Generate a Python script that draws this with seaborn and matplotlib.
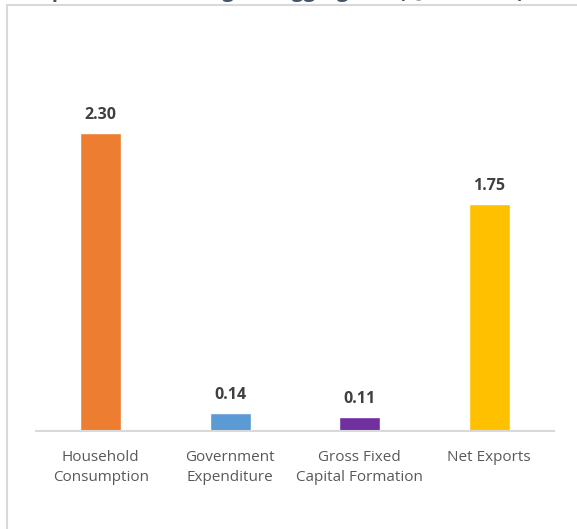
import matplotlib
matplotlib.use("Agg")
import matplotlib.pyplot as plt
import seaborn as sns
import pandas as pd
from matplotlib.patches import Rectangle

categories = ["Household\nConsumption", "Government\nExpenditure",
              "Gross Fixed\nCapital Formation", "Net Exports"]
values = [2.30, 0.14, 0.11, 1.75]
labels = ["2.30", "0.14", "0.11", "1.75"]
colors = ["#ED7D31", "#5B9BD5", "#7030A0", "#FFC000"]
title = "Components of Change in Aggregates (Q1 2024, %)"

sns.set_theme(style="white")
plt.rcParams["font.family"] = ["Open Sans", "DejaVu Sans"]

W, H = 577, 529
fig = plt.figure(figsize=(W / 100, H / 100), dpi=100)

# outer frame
fig.patches.append(Rectangle((6.5 / W, -0.1), 1.2, (H - 5) / H + 0.1,
                             transform=fig.transFigure, fill=False,
                             edgecolor="#D9D9D9", linewidth=1.5))
# title, clipped at the top edge as in the reference
fig.text(5 / W, (H + 2.5) / H, title, fontsize=15, fontweight="bold",
         color="#44546A", ha="left", va="baseline")

ax = fig.add_axes([36 / W, (H - 431) / H, (554 - 36) / W, (431 - 40) / H])
df = pd.DataFrame({"cat": categories, "val": values})
sns.barplot(data=df, x="cat", y="val", hue="cat", palette=colors,
            legend=False, width=0.32, ax=ax, saturation=1)
ax.set_ylim(0, (431 - 40) / 129.6)
ax.set_xlim(-0.5, 3.5)
for i, (v, t) in enumerate(zip(values, labels)):
    ax.annotate(t, (i, v), xytext=(0, 7), textcoords="offset points",
                ha="center", va="bottom", fontsize=11.5, fontweight="bold",
                color="#404040")
ax.set_xlabel("")
ax.set_ylabel("")
ax.set_yticks([])
for s in ["top", "right", "left"]:
    ax.spines[s].set_visible(False)
ax.spines["bottom"].set_color("#D9D9D9")
ax.spines["bottom"].set_linewidth(1.5)
ax.tick_params(axis="x", length=0, pad=14, labelsize=11, labelcolor="#595959")
for lbl in ax.get_xticklabels():
    lbl.set_linespacing(1.45)
ax.patch.set_alpha(0)

fig.savefig("out.png", dpi=100)
